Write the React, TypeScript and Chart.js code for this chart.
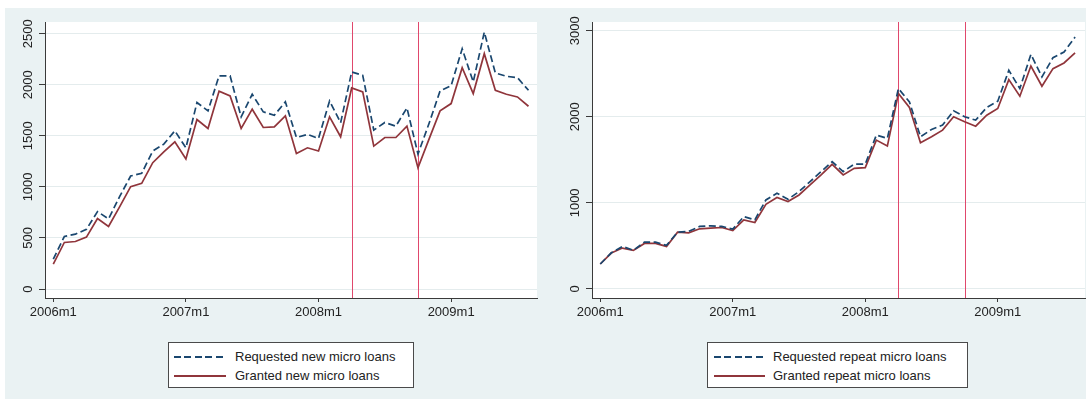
import React, { useEffect, useRef } from "react";
import { Chart, registerables } from "chart.js";

Chart.register(...registerables);

// ---------- data ----------
const months = [
  "2006m1", "2006m2", "2006m3", "2006m4", "2006m5", "2006m6", "2006m7", "2006m8", "2006m9", "2006m10", "2006m11", "2006m12",
  "2007m1", "2007m2", "2007m3", "2007m4", "2007m5", "2007m6", "2007m7", "2007m8", "2007m9", "2007m10", "2007m11", "2007m12",
  "2008m1", "2008m2", "2008m3", "2008m4", "2008m5", "2008m6", "2008m7", "2008m8", "2008m9", "2008m10", "2008m11", "2008m12",
  "2009m1", "2009m2", "2009m3", "2009m4", "2009m5", "2009m6", "2009m7", "2009m8",
];

const xTickLabels = ["2006m1", "2007m1", "2008m1", "2009m1"];

const newRequested = [
  293, 514, 537, 585, 758, 687, 905, 1107, 1133, 1351, 1419, 1549,
  1383, 1826, 1745, 2087, 2087, 1686, 1907, 1735, 1702, 1833, 1484, 1514,
  1475, 1842, 1628, 2126, 2093, 1556, 1631, 1595, 1774, 1322, 1621, 1940,
  1992, 2353, 2028, 2516, 2116, 2083, 2070, 1946,
];
const newGranted = [
  244, 456, 465, 508, 690, 612, 805, 1003, 1035, 1237, 1344, 1442,
  1273, 1660, 1572, 1937, 1891, 1572, 1761, 1582, 1588, 1696, 1328, 1383,
  1351, 1686, 1491, 1969, 1930, 1400, 1484, 1484, 1595, 1188, 1468, 1745,
  1816, 2168, 1914, 2305, 1946, 1907, 1881, 1790,
];

const repeatRequested = [
  290, 420, 494, 450, 544, 544, 506, 660, 668, 726, 733, 726,
  695, 841, 803, 1034, 1112, 1042, 1131, 1247, 1363, 1478, 1363, 1451,
  1451, 1787, 1749, 2328, 2173, 1768, 1853, 1903, 2069, 2000, 1961, 2108,
  2181, 2540, 2328, 2725, 2463, 2687, 2752, 2926,
];
const repeatGranted = [
  290, 417, 475, 448, 529, 529, 494, 660, 652, 699, 706, 714,
  679, 803, 772, 984, 1062, 1015, 1092, 1208, 1324, 1448, 1324, 1401,
  1409, 1729, 1660, 2270, 2108, 1698, 1768, 1845, 2000, 1942, 1891, 2019,
  2096, 2432, 2239, 2590, 2355, 2559, 2625, 2741,
];

const newYTicks = [0, 500, 1000, 1500, 2000, 2500];
const repeatYTicks = [0, 1000, 2000, 3000];

const eventMonths = ["2008m4", "2008m10"];
const eventColors = ["#E0486C", "#E0486C"];

const newLegend = ["Requested new micro loans", "Granted new micro loans"];
const repeatLegend = ["Requested repeat micro loans", "Granted repeat micro loans"];

// ---------- styles ----------
const FONT = "'Liberation Sans', Arial, Helvetica, sans-serif";
const NAVY = "#1A476F";
const MAROON = "#90353B";
const BG = "#EAF2F3";
const TEXT = "#222222";
const AXIS = "#3a3a3a";
const DASH = [7, 3.5];

function makeDecorPlugin(yTicks: number[]) {
  return {
    id: "panelDecor",
    beforeDraw(chart: any) {
      const { ctx, chartArea: a } = chart;
      ctx.save();
      ctx.fillStyle = "#ffffff";
      ctx.fillRect(a.left, a.top, a.right - a.left, a.bottom - a.top);
      ctx.restore();
    },
    beforeDatasetsDraw(chart: any) {
      const { ctx, chartArea: a } = chart;
      const xs = chart.scales.x;
      eventMonths.forEach((m, i) => {
        const px = Math.round(xs.getPixelForValue(months.indexOf(m))) + 0.5;
        ctx.save();
        ctx.lineWidth = 1;
        ctx.setLineDash([]);
        ctx.strokeStyle = eventColors[i];
        ctx.beginPath();
        ctx.moveTo(px, a.top);
        ctx.lineTo(px, a.bottom);
        ctx.stroke();
        ctx.restore();
      });
    },
    afterDraw(chart: any) {
      const { ctx, chartArea: a } = chart;
      const ys = chart.scales.y;
      ctx.save();
      ctx.fillStyle = TEXT;
      ctx.font = `13px ${FONT}`;
      ctx.textAlign = "center";
      ctx.textBaseline = "middle";
      yTicks.forEach((v) => {
        const py = ys.getPixelForValue(v);
        ctx.save();
        ctx.translate(a.left - 16.5, py);
        ctx.rotate(-Math.PI / 2);
        ctx.fillText(String(v), 0, 0);
        ctx.restore();
      });
      ctx.restore();
    },
  };
}

type PanelProps = {
  left: number;
  requested: number[];
  granted: number[];
  legend: string[];
  yTicks: number[];
  yMin: number;
  yMax: number;
  xMax: number;
  padLeft: number;
  padRight: number;
};

function Panel(p: PanelProps) {
  const ref = useRef<HTMLCanvasElement | null>(null);
  useEffect(() => {
    if (!ref.current) return;
    const tickPos = xTickLabels.map((l) => months.indexOf(l));
    const chart = new Chart(ref.current, {
      type: "line",
      data: {
        datasets: [
          {
            label: p.legend[0],
            data: months.map((_, i) => ({ x: i, y: p.requested[i] })),
            borderColor: NAVY,
            borderWidth: 1.7,
            borderDash: DASH,
            pointRadius: 0,
            fill: false,
            tension: 0,
          },
          {
            label: p.legend[1],
            data: months.map((_, i) => ({ x: i, y: p.granted[i] })),
            borderColor: MAROON,
            borderWidth: 1.7,
            pointRadius: 0,
            fill: false,
            tension: 0,
          },
        ],
      },
      options: {
        animation: false,
        responsive: false,
        maintainAspectRatio: false,
        events: [],
        layout: { padding: { left: p.padLeft, right: p.padRight, top: 22, bottom: 7 } },
        plugins: {
          legend: { display: false },
          tooltip: { enabled: false },
        },
        scales: {
          x: {
            type: "linear",
            min: -0.75,
            max: p.xMax,
            afterBuildTicks: (s: any) => {
              s.ticks = tickPos.map((v) => ({ value: v }));
            },
            afterFit: (s: any) => {
              s.height = 25;
            },
            ticks: {
              autoSkip: false,
              maxRotation: 0,
              minRotation: 0,
              padding: 3,
              color: TEXT,
              font: { family: FONT, size: 13 },
              callback: (v: any) => months[Number(v)],
            },
            grid: {
              drawOnChartArea: false,
              drawTicks: true,
              tickLength: 4,
              tickColor: AXIS,
              color: AXIS,
            },
            border: { display: true, color: AXIS, width: 1 },
          },
          y: {
            type: "linear",
            min: p.yMin,
            max: p.yMax,
            afterBuildTicks: (s: any) => {
              s.ticks = p.yTicks.map((v) => ({ value: v }));
            },
            afterFit: (s: any) => {
              s.width = 40;
            },
            ticks: { display: false },
            grid: {
              drawOnChartArea: true,
              drawTicks: true,
              tickLength: 6,
              tickColor: AXIS,
              color: "#E4ECED",
              lineWidth: 1,
            },
            border: { display: true, color: AXIS, width: 1 },
          },
        },
      },
      plugins: [makeDecorPlugin(p.yTicks)],
    } as any);
    return () => chart.destroy();
  }, []);
  return (
    <canvas
      ref={ref}
      width={543}
      height={330}
      style={{ position: "absolute", left: p.left, top: 0, width: 543, height: 330 }}
    />
  );
}

type LegendProps = {
  left: number;
  width: number;
  labels: string[];
  sampleLeft: number;
  sampleWidth: number;
  textLeft: number;
};

function LegendBox(l: LegendProps) {
  const rows = [
    { c: 14.5, bg: `repeating-linear-gradient(to right, ${NAVY} 0px, ${NAVY} 7px, transparent 7px, transparent 10.5px)` },
    { c: 33.5, bg: MAROON },
  ];
  return (
    <div
      style={{
        position: "absolute",
        left: l.left,
        top: 342,
        width: l.width,
        height: 46,
        boxSizing: "border-box",
        border: "1px solid #4a4a4a",
        background: "#ffffff",
      }}
    >
      {rows.map((r, i) => (
        <React.Fragment key={i}>
          <div
            style={{
              position: "absolute",
              left: l.sampleLeft - 1,
              top: Math.round(r.c - 2),
              width: l.sampleWidth,
              height: 2,
              background: r.bg,
            }}
          />
          <div
            style={{
              position: "absolute",
              left: l.textLeft - 1,
              top: r.c - 8 - 1,
              height: 16,
              lineHeight: "16px",
              fontFamily: FONT,
              fontSize: 13,
              color: TEXT,
              whiteSpace: "nowrap",
            }}
          >
            {l.labels[i]}
          </div>
        </React.Fragment>
      ))}
    </div>
  );
}

export default function App() {
  return (
    <div style={{ position: "absolute", left: 0, top: 0, width: 1086, height: 399, background: "#ffffff", overflow: "hidden" }}>
      <div style={{ position: "absolute", left: 5, top: 8, width: 1081, height: 391, background: BG }} />
      <Panel
        left={0}
        requested={newRequested}
        granted={newGranted}
        legend={newLegend}
        yTicks={newYTicks}
        yMin={-88}
        yMax={2615}
        xMax={43.77}
        padLeft={5}
        padRight={6}
      />
      <Panel
        left={543}
        requested={repeatRequested}
        granted={repeatGranted}
        legend={repeatLegend}
        yTicks={repeatYTicks}
        yMin={-105}
        yMax={3101}
        xMax={43.9}
        padLeft={9}
        padRight={1}
      />
      <LegendBox left={168} width={246} labels={newLegend} sampleLeft={6} sampleWidth={52} textLeft={67} />
      <LegendBox left={707} width={261} labels={repeatLegend} sampleLeft={7} sampleWidth={51} textLeft={66} />
    </div>
  );
}
